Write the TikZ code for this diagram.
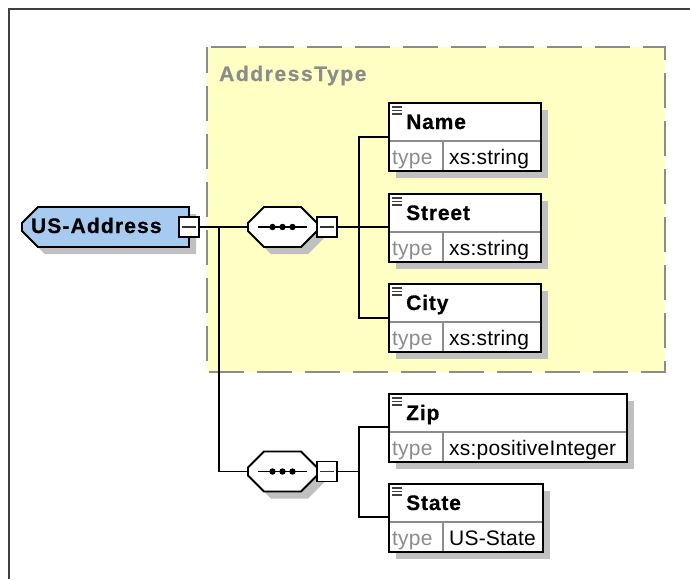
\documentclass[tikz,border=0pt]{standalone}
\usepackage{fontspec}
\setmainfont{Liberation Sans}
\newfontfamily\headfont[LetterSpace=4,FakeBold=0.6]{Liberation Sans Bold}
\newfontfamily\rootfont[LetterSpace=5.5,FakeBold=0.6]{Liberation Sans Bold}
\newfontfamily\regionfont[LetterSpace=7.5,FakeBold=0.6]{Liberation Sans Bold}
\newfontfamily\bodyfont[LetterSpace=1]{Liberation Sans}
\usetikzlibrary{shapes.misc,shadows}
\definecolor{yel}{HTML}{FFFFC4}
\definecolor{blu}{HTML}{A6CAF0}
\definecolor{shd}{HTML}{C0C0C0}
\definecolor{dgr}{HTML}{8C8C8C}
\newcommand{\elembox}[8]{% id x y w h divy label type(value)
  \node[outerbox,minimum width=#4pt,minimum height=#5pt] (#1) at (#2+#4/2,#3+#5/2) {};
  \draw[innerline] (#2,#3+#6) -- (#2+#4,#3+#6);
  \draw[innerline] (#2+54,#3+#6) -- (#2+54,#3+#5);
  \draw[outline] (#1.north west) rectangle (#1.south east);
  \foreach \dy in {4,7.5,11}{\draw[iconline] (#2+3,#3+\dy) -- (#2+13,#3+\dy);}
  \node[headtext] (#1-label) at (#2+17,#3+26) {#7};
  \node[typetext] (#1-type) at (#2+3,#3+#6+23) {type};
  \node[valtext] (#1-value) at (#2+60,#3+#6+23) {#8};
}
\newcommand{\seqicon}[1]{%
  \draw[outline] ([xshift=10pt]#1.west) -- ([xshift=-10pt]#1.east);
  \foreach \dx in {-10,0,10}{\fill ([xshift=\dx pt]#1.center) circle (3.2pt);}
}
\tikzset{
  x=1pt,y=-1pt,
  outline/.style={draw=black,line width=1.8pt},
  innerline/.style={draw=dgr,line width=1.3pt},
  iconline/.style={draw=black!75,line width=1.2pt},
  conn/.style={draw=black,line width=1.6pt},
  outerbox/.style={rectangle,draw=black,fill=white,line width=1.8pt,inner sep=0pt,outer sep=0pt,
    general shadow={fill=shd,shadow xshift=7pt,shadow yshift=-7pt}},
  headtext/.style={anchor=base west,inner sep=0pt,font=\fontsize{21}{21}\selectfont\headfont},
  typetext/.style={anchor=base west,inner sep=0pt,text=dgr,font=\fontsize{21}{21}\selectfont\bodyfont},
  valtext/.style={anchor=base west,inner sep=0pt,font=\fontsize{21}{21}\selectfont\bodyfont},
  octa/.style={chamfered rectangle,chamfered rectangle xsep=8pt,chamfered rectangle ysep=8pt,draw=black,line width=1.8pt,
    inner sep=0pt,outer sep=0pt,
    general shadow={fill=shd,shadow xshift=7pt,shadow yshift=-7pt}},
  minusbox/.style={rectangle,draw=black,fill=white,line width=1.8pt,minimum width=20pt,minimum height=20pt,inner sep=0pt,outer sep=0pt},
  minusline/.style={draw=black!80,line width=1.2pt},
}
\begin{document}
\begin{tikzpicture}
\useasboundingbox (0,0) rectangle (690,579);
\fill[white] (0,0) rectangle (690,579);
\draw[draw=black!75,line width=2.4pt] (9,579) -- (9,9) -- (690,9);
% type region
\node[rectangle,fill=yel,minimum width=458pt,minimum height=325pt,inner sep=0pt,outer sep=0pt] (region) at (436,209.5) {};
\draw[draw=dgr,line width=2pt,dash pattern=on 35pt off 13pt,dash phase=9pt] (region.north west) rectangle (region.south east);
\node[anchor=base west,inner sep=0pt,text=dgr,font=\fontsize{21}{21}\selectfont\regionfont] (regionlabel) at (219,81) {AddressType};
% junctions
\coordinate (jroot) at (219,227);
\coordinate (jtop) at (359,227);
\coordinate (jbot) at (359,471.5);
% root
\node[octa,fill=blu,chamfered rectangle corners={north west,south west},font=\fontsize{21}{21}\selectfont\rootfont,align=left] (root) at (105.5,227) {\rule{0pt}{17pt}\hspace*{1pt}\makebox[150pt][l]{\raisebox{-1pt}{US-Address}}\rule[-7pt]{0pt}{7pt}};
\node[octa,fill=white] (seqa) at (282.5,227) {\rule[-12pt]{53pt}{0pt}\rule{0pt}{12pt}};
\node[octa,fill=white] (seqb) at (282.5,471.5) {\rule[-12pt]{53pt}{0pt}\rule{0pt}{12pt}};
\seqicon{seqa}\seqicon{seqb}
\node[minusbox] (ma) at (189,227) {};
\node[minusbox] (mb) at (327,227) {};
\node[minusbox] (mc) at (327,471.5) {};
\foreach \m in {ma,mb,mc}{\draw[minusline] ([xshift=3pt]\m.center -| \m.west) -- ([xshift=-3pt]\m.center -| \m.east);}
% elements
\elembox{name}{389}{103}{152}{68}{38}{Name}{xs:string}
\elembox{street}{389}{194}{152}{68}{38}{Street}{xs:string}
\elembox{city}{389}{284}{152}{68}{38}{City}{xs:string}
\elembox{zip}{389}{394}{238}{68}{38}{Zip}{xs:positiveInteger}
\elembox{state}{389}{484}{154}{68}{38}{State}{US-State}
% connectors
\draw[conn] (ma.east) -- (seqa.west);
\draw[conn] (jroot) |- (seqb.west);
\draw[conn] (mb.east) -- (mb.east -| street.west);
\draw[conn] (name.west |- 0,137) -| (jtop) |- (city.west |- 0,318);
\draw[conn] (mc.east) -- (jbot);
\draw[conn] (zip.west |- 0,427) -| (jbot) |- (state.west |- 0,517);
\end{tikzpicture}
\end{document}
